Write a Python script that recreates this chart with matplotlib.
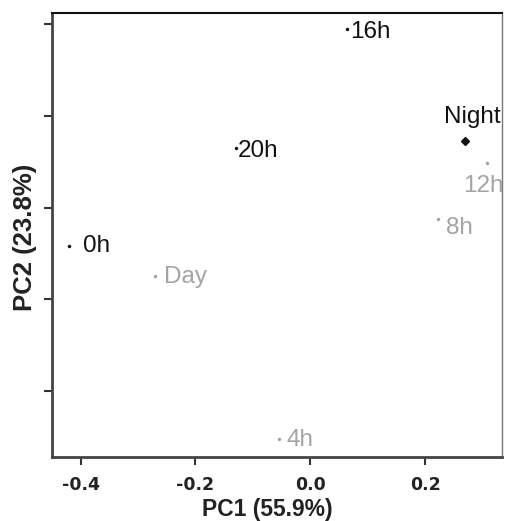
import matplotlib
matplotlib.use("Agg")
import matplotlib.pyplot as plt

plt.rcParams['font.family'] = ['Liberation Sans', 'DejaVu Sans']

labels = ["0h", "4h", "8h", "12h", "16h", "20h", "Day", "Night"]
pc1 = [-0.421, -0.054, 0.223, 0.308, 0.064, -0.130, -0.271, 0.270]
pc2 = [-0.083, -0.504, -0.024, 0.098, 0.389, 0.130, -0.148, 0.146]
groups = ["dark", "light", "light", "light", "dark", "dark", "light", "dark"]

xticks = [-0.4, -0.2, 0.0, 0.2]
xtick_labels = ["-0.4", "-0.2", "0.0", "0.2"]
yticks = [-0.4, -0.2, 0.0, 0.2, 0.4]

colors = {"dark": "#111111", "light": "#a4a4a4"}
# label offsets (points) and alignment
offsets = {
    "0h": ((10.5, 0), "left", "center"),
    "4h": ((5, -1), "left", "center"),
    "8h": ((5.5, -7), "left", "center"),
    "12h": ((-17, -17), "left", "center"),
    "16h": ((2.5, -2), "left", "center"),
    "20h": ((1.5, -2), "left", "center"),
    "Day": ((6.5, -1), "left", "center"),
    "Night": ((5, 17), "center", "center"),
}

fig = plt.figure(figsize=(5.05, 5.21), dpi=100)
ax = fig.add_axes([0.103, 0.123, 0.891, 0.852])

for lab, x, y, g in zip(labels, pc1, pc2, groups):
    c = colors[g]
    if lab == "Night":
        ax.plot(x, y, marker="D", ms=4, color=c, linestyle="none")
    else:
        ax.plot(x, y, marker="o", ms=2.5, color=c, linestyle="none", mec="none")
    off, ha, va = offsets[lab]
    ax.annotate(lab, (x, y), xytext=off, textcoords="offset points",
                ha=ha, va=va, fontsize=17.5, color=c, annotation_clip=False,
                clip_on=True)

ax.set_xlim(-0.450, 0.334)
ax.set_ylim(-0.543, 0.424)
ax.set_xticks(xticks)
ax.set_xticklabels(xtick_labels, fontsize=12.5, fontweight="bold", color="#222222",
                   family=["DejaVu Sans"])
ax.set_yticks(yticks)
ax.set_yticklabels([])
ax.tick_params(axis="both", direction="out", length=5.5, width=1.5, color="#333333")
ax.tick_params(axis="x", pad=8)

ax.set_xlabel("PC1 (55.9%)", fontsize=16.5, fontweight="bold", color="#222222", labelpad=3)
ax.xaxis.label.set_x(0.478)
ax.set_ylabel("PC2 (23.8%)", fontsize=18.5, fontweight="bold", color="#222222", labelpad=2)
ax.yaxis.label.set_y(0.495)

ax.spines["left"].set_linewidth(2)
ax.spines["left"].set_color("#444444")
ax.spines["bottom"].set_linewidth(2)
ax.spines["bottom"].set_color("#444444")
ax.spines["top"].set_linewidth(1.5)
ax.spines["top"].set_color("#111111")
ax.spines["right"].set_linewidth(1)
ax.spines["right"].set_color("#777777")

fig.savefig("out.png", dpi=100)
